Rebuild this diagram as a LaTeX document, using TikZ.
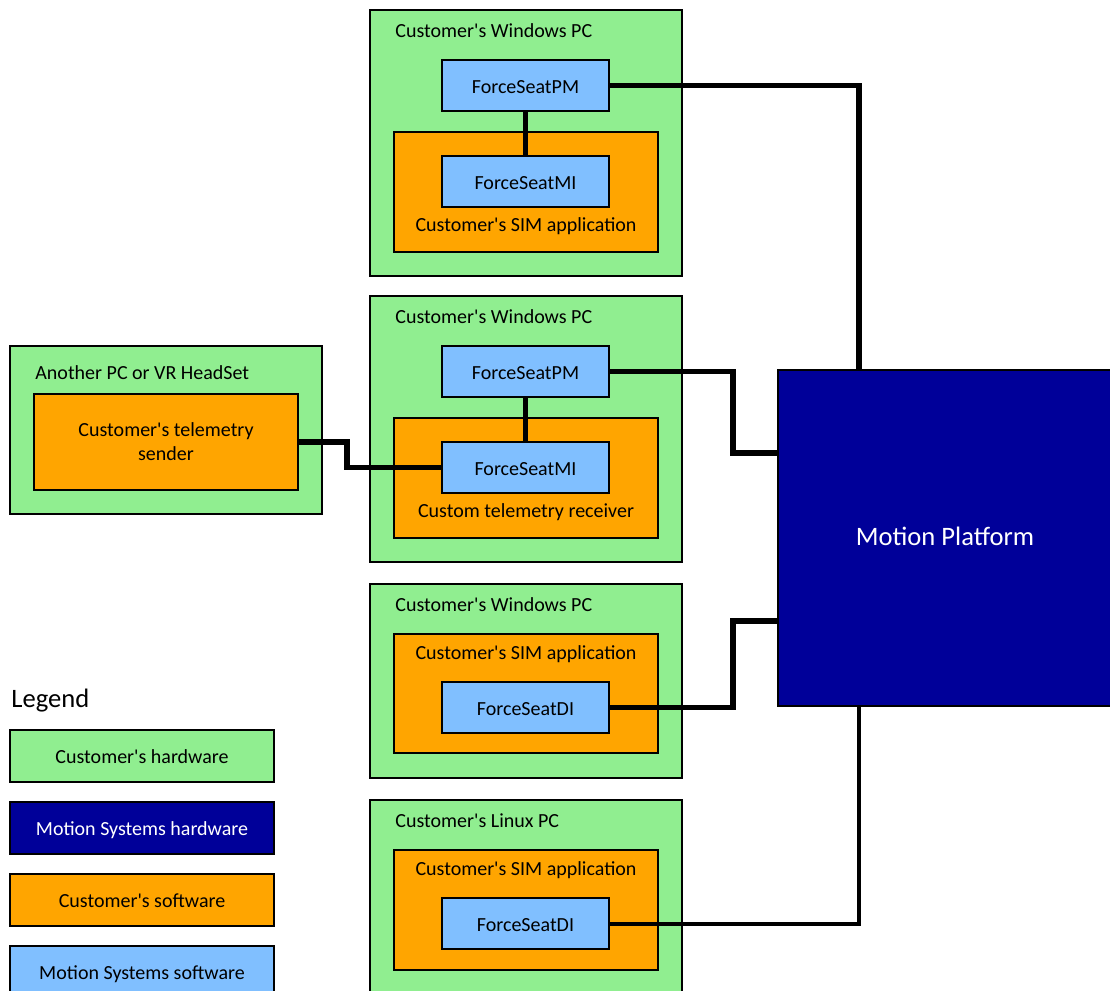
\documentclass[tikz,border=0pt]{standalone}
\usepackage{fontspec}
\setmainfont{Carlito}
\usetikzlibrary{fit,calc}
\definecolor{hwgreen}{HTML}{90EE90}
\definecolor{mshw}{HTML}{000099}
\definecolor{cusw}{HTML}{FFA500}
\definecolor{mssw}{HTML}{80BFFF}
\newcommand{\qs}{\textquotesingle}
\begin{document}
\begin{tikzpicture}[x=0.5pt,y=-0.5pt,
  font=\fontsize{10}{12}\selectfont,
  box/.style={draw=black, line width=1.1pt, inner sep=0pt},
  sz/.style 2 args={minimum width=#1*0.5pt, minimum height=#2*0.5pt},
  ctext/.style={text height=0.75em, text depth=0pt},
  hwbox/.style={box, fill=hwgreen},
  swbox/.style={box, fill=cusw},
  msbox/.style={box, fill=mssw, ctext, sz={167}{51}},
  lgbox/.style={box, ctext, sz={264}{52}},
  mpbox/.style={box, fill=mshw, text=white, ctext},
  big/.style={font=\fontsize{13.3}{16}\selectfont},
  title/.style={anchor=base west, inner sep=0pt},
  swlabel/.style={anchor=base, inner sep=0pt},
  conn/.style={draw=black, line width=2.7pt},
  thinconn/.style={draw=black, line width=2pt}]
\useasboundingbox (0,0) rectangle (1110,991);
\fill[white] (0,0) rectangle (1110,991);

% ---------- PC 1 ----------
\node[hwbox, fit={(370,10)(682,276)}] (pc1) {};
\node[title] (t1) at (395,37) {Customer\qs s Windows PC};
\node[swbox, fit={(394,132)(658,252)}] (app1) {};
\node[swlabel] (l1) at (526,231) {Customer\qs s SIM application};
\node[msbox] (pm1) at (525.5,85.5) {ForceSeatPM};
\node[msbox] (mi1) at (525.5,181.5) {ForceSeatMI};

% ---------- PC 2 ----------
\node[hwbox, fit={(370,296)(682,562)}] (pc2) {};
\node[title] (t2) at (395,323) {Customer\qs s Windows PC};
\node[swbox, fit={(394,418)(658,538)}] (app2) {};
\node[swlabel] (l2) at (526,517) {Custom telemetry receiver};
\node[msbox] (pm2) at (525.5,371.5) {ForceSeatPM};
\node[msbox] (mi2) at (525.5,467.5) {ForceSeatMI};

% ---------- Another PC ----------
\node[hwbox, fit={(10,346)(322,514)}] (pc0) {};
\node[title] (t0) at (35,379) {Another PC or VR HeadSet};
\node[swbox, sz={264}{96}, align=center] (send) at (166,442) {Customer\qs s telemetry\\sender};

% ---------- PC 3 ----------
\node[hwbox, fit={(370,584)(682,778)}] (pc3) {};
\node[title] (t3) at (395,611) {Customer\qs s Windows PC};
\node[swbox, fit={(394,634)(658,753)}] (app3) {};
\node[swlabel] (l3) at (526,659) {Customer\qs s SIM application};
\node[msbox] (di3) at (525.5,707.5) {ForceSeatDI};

% ---------- PC 4 ----------
\node[hwbox, fit={(370,800)(682,1000)}] (pc4) {};
\node[title] (t4) at (395,827) {Customer\qs s Linux PC};
\node[swbox, fit={(394,850)(658,970)}] (app4) {};
\node[swlabel] (l4) at (526,875) {Customer\qs s SIM application};
\node[msbox] (di4) at (525.5,923.5) {ForceSeatDI};

% ---------- Motion platform ----------
\node[mpbox, big, sz={334}{336}] (mp) at (945,538) {Motion Platform};

% ---------- Legend ----------
\node[title, big] (leg) at (11,707) {Legend};
\node[lgbox, fill=hwgreen] (lg1) at (142,756) {Customer\qs s hardware};
\node[lgbox, fill=mshw, text=white] (lg2) at (142,828) {Motion Systems hardware};
\node[lgbox, fill=cusw] (lg3) at (142,900) {Customer\qs s software};
\node[lgbox, fill=mssw] (lg4) at (142,972) {Motion Systems software};

% ---------- Connectors ----------
\draw[conn] (pm1.south) -- (mi1.north);
\draw[conn] (pm2.south) -- (mi2.north);
\draw[conn] (pm1.east) -| ([xshift=41pt]mp.north west);
\draw[conn] (pm2.east) -- ([xshift=61.5pt]pm2.east) |- ([yshift=-42pt]mp.north west);
\draw[conn] (send.east) -- ([xshift=24pt]send.east) |- (mi2.west);
\draw[conn] (di3.east) -- ([xshift=61.5pt]di3.east) |- ([yshift=-126pt]mp.north west);
\draw[thinconn] (di4.east) -| ([xshift=41pt]mp.south west);
\end{tikzpicture}
\end{document}
